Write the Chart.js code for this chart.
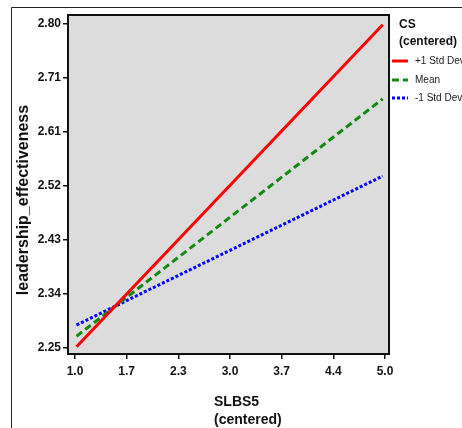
<!DOCTYPE html>
<html>
<head>
<meta charset="utf-8">
<script src="https://cdn.jsdelivr.net/npm/chart.js@4/dist/chart.umd.min.js"></script>
<style>
  html, body { margin: 0; padding: 0; background: #fff; }
  canvas { display: block; }
</style>
</head>
<body>
<canvas id="chart" width="462" height="428"></canvas>
<script>
// Simple slopes of leadership_effectiveness on SLBS5 at three levels of CS
const seriesNames = ['+1 Std Dev', 'Mean', '-1 Std Dev'];
const slbs5 = [1.0, 5.0];
const plusOneSD = [2.250, 2.797];
const meanCS = [2.268, 2.671];
const minusOneSD = [2.287, 2.540];

const xTickValues = [0.98, 1.655, 2.33, 3.005, 3.68, 4.355, 5.03];
const xTickLabels = ['1.0', '1.7', '2.3', '3.0', '3.7', '4.4', '5.0'];
const yTickValues = [2.248, 2.3397, 2.4314, 2.5231, 2.6148, 2.7065, 2.7982];
const yTickLabels = ['2.25', '2.34', '2.43', '2.52', '2.61', '2.71', '2.80'];

const xTitle = ['SLBS5', '(centered)'];
const yTitle = 'leadership_effectiveness';
const legendTitle = ['CS', '(centered)'];

const FONT = '"Liberation Sans", Arial, sans-serif';
Chart.defaults.font.family = FONT;

const toPoints = ys => slbs5.map((x, i) => ({ x: x, y: ys[i] }));

const styles = [
  { color: '#ff0000', dash: [] },
  { color: '#118a11', dash: [7, 4] },
  { color: '#0000ff', dash: [3, 2] }
];

const datasets = [plusOneSD, meanCS, minusOneSD].map((ys, i) => ({
  label: seriesNames[i],
  data: toPoints(ys),
  borderColor: styles[i].color,
  borderDash: styles[i].dash,
  borderWidth: 3,
  borderCapStyle: 'butt',
  pointRadius: 0,
  fill: false,
  tension: 0
}));

const decorations = {
  id: 'decorations',
  beforeDraw(chart) {
    const { ctx, chartArea: a } = chart;
    ctx.save();
    ctx.fillStyle = '#fff';
    ctx.fillRect(0, 0, chart.width, chart.height);
    ctx.fillStyle = '#dcdcdc';
    ctx.fillRect(a.left, a.top, a.right - a.left, a.bottom - a.top);
    // outer frame
    ctx.strokeStyle = '#222';
    ctx.lineWidth = 1;
    ctx.beginPath();
    ctx.moveTo(11.5, chart.height);
    ctx.lineTo(11.5, 7.5);
    ctx.lineTo(chart.width, 7.5);
    ctx.stroke();
    ctx.restore();
  },
  afterDraw(chart) {
    const { ctx, chartArea: a } = chart;
    ctx.save();
    // plot border
    ctx.strokeStyle = '#111';
    ctx.lineWidth = 2;
    ctx.strokeRect(a.left, a.top, a.right - a.left, a.bottom - a.top);

    // axis titles
    ctx.fillStyle = '#111';
    ctx.font = 'bold 14px ' + FONT;
    ctx.textAlign = 'left';
    ctx.textBaseline = 'alphabetic';
    ctx.fillText(xTitle[0], 214, 406);
    ctx.fillText(xTitle[1], 214, 424);

    ctx.save();
    ctx.translate(28, 200);
    ctx.rotate(-Math.PI / 2);
    ctx.textAlign = 'center';
    ctx.font = 'bold 16px ' + FONT;
    ctx.fillText(yTitle, 0, 0);
    ctx.restore();

    // legend
    ctx.font = 'bold 12px ' + FONT;
    ctx.textAlign = 'left';
    ctx.fillText(legendTitle[0], 399, 28);
    ctx.fillText(legendTitle[1], 399, 45);
    const rows = [61, 80, 98];
    chart.data.datasets.forEach((ds, i) => {
      const y = rows[i];
      ctx.save();
      ctx.strokeStyle = ds.borderColor;
      ctx.lineWidth = 3;
      ctx.lineCap = 'butt';
      ctx.setLineDash(ds.borderDash);
      ctx.beginPath();
      ctx.moveTo(392, y);
      ctx.lineTo(408, y);
      ctx.stroke();
      ctx.restore();
      ctx.font = '10px ' + FONT;
      ctx.fillStyle = '#222';
      ctx.textBaseline = 'middle';
      ctx.fillText(ds.label, 415, y);
    });
    ctx.restore();
  }
};

new Chart(document.getElementById('chart'), {
  type: 'line',
  data: { datasets },
  options: {
    responsive: false,
    animation: false,
    devicePixelRatio: 1,
    layout: { padding: { left: 0, top: 15, right: 73, bottom: 0 } },
    plugins: { legend: { display: false }, tooltip: { enabled: false } },
    scales: {
      x: {
        type: 'linear',
        min: 0.8885,
        max: 5.0823,
        afterFit: s => { s.height = 74; },
        afterBuildTicks: s => { s.ticks = xTickValues.map(v => ({ value: v })); },
        ticks: {
          callback: (v, i) => xTickLabels[i],
          font: { size: 12, weight: 'bold' },
          color: '#111',
          padding: 5,
          maxRotation: 0,
          autoSkip: false
        },
        grid: { drawOnChartArea: false, drawTicks: true, tickLength: 5, color: '#111', lineWidth: 1.5 },
        border: { display: false }
      },
      y: {
        type: 'linear',
        min: 2.2378,
        max: 2.8135,
        afterFit: s => { s.width = 68; },
        afterBuildTicks: s => { s.ticks = yTickValues.map(v => ({ value: v })); },
        ticks: {
          callback: (v, i) => yTickLabels[i],
          font: { size: 12, weight: 'bold' },
          color: '#111',
          padding: 2,
          autoSkip: false
        },
        grid: { drawOnChartArea: false, drawTicks: true, tickLength: 5, color: '#111', lineWidth: 1.5 },
        border: { display: false }
      }
    }
  },
  plugins: [decorations]
});
</script>
</body>
</html>
